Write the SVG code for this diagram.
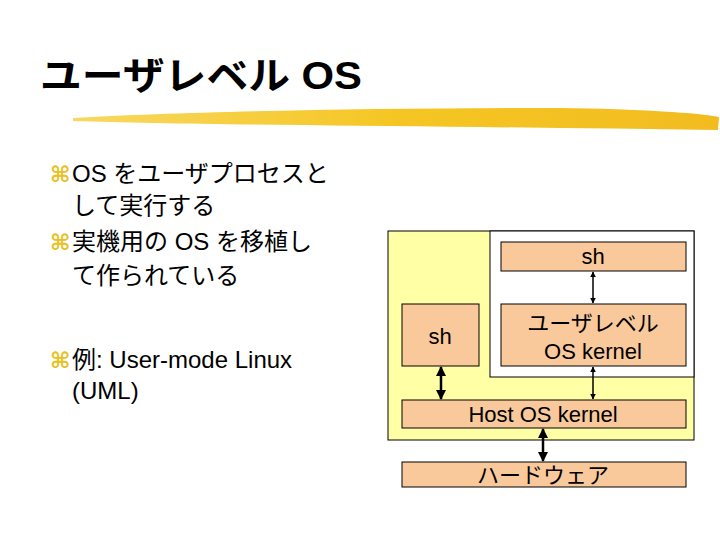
<svg xmlns="http://www.w3.org/2000/svg" width="720" height="540" viewBox="0 0 720 540">
<style>
.jp{font-family:"Liberation Sans","Noto Sans CJK JP",sans-serif;fill:#000}
.title{font-size:38px;font-weight:bold}
.body{font-size:24px}
.lbl{font-size:22px;text-anchor:middle}
.box{fill:#F9C99B;stroke:#000;stroke-width:1}
.con{stroke:#000;stroke-width:1.5;fill:none;marker-start:url(#ah);marker-end:url(#ah)}
.bold{stroke-width:2.5}
.bul{font-family:"DejaVu Sans",sans-serif;font-size:22px;font-weight:bold;fill:#E8C020}
</style>
<defs>
<marker id="ah" viewBox="0 0 10 10" refX="9" refY="5" markerWidth="4" markerHeight="4" orient="auto-start-reverse" markerUnits="strokeWidth">
<path d="M0,0 L10,5 L0,10 Z" fill="#000"/>
</marker>
<linearGradient id="brush" x1="0" x2="1" y1="0" y2="0">
<stop offset="0" stop-color="#F8D860"/>
<stop offset="0.5" stop-color="#F5C623"/>
<stop offset="1" stop-color="#F2BC20"/>
</linearGradient>
</defs>
<rect width="720" height="540" fill="#fff"/>
<g id="title">
<text class="jp title" x="40" y="89" textLength="322" lengthAdjust="spacingAndGlyphs">ユーザレベル OS</text>
<path d="M73,118 C180,112 360,108 560,108 C640,109 700,113 719,117 L718,130 C640,129 560,128 480,127 C300,125 160,124 73,121 Z" fill="url(#brush)"/>
</g>
<g id="bullets">
<text class="bul" x="50" y="182">⌘</text>
<text class="jp body" x="72" y="182">OS をユーザプロセスと</text>
<text class="jp body" x="72" y="214">して実行する</text>
<text class="bul" x="50" y="250">⌘</text>
<text class="jp body" x="72" y="250">実機用の OS を移植し</text>
<text class="jp body" x="72" y="284">て作られている</text>
<text class="bul" x="50" y="368">⌘</text>
<text class="jp body" x="72" y="368">例: User-mode Linux</text>
<text class="jp body" x="72" y="399">(UML)</text>
</g>
<g id="host-area"><rect x="388" y="231" width="306" height="209" fill="#FFFFA6" stroke="#000" stroke-width="1"/></g>
<g id="uml-area"><rect x="490" y="231" width="204" height="146" fill="#fff" stroke="#000" stroke-width="1"/></g>
<g id="sh-top"><rect class="box" x="501" y="242" width="185" height="29"/><text class="jp lbl" x="593" y="264">sh</text></g>
<g id="uml-kernel"><rect class="box" x="501" y="304" width="185" height="62"/><text class="jp lbl" x="593" y="331">ユーザレベル</text><text class="jp lbl" x="593" y="359">OS kernel</text></g>
<g id="sh-left"><rect class="box" x="402" y="304" width="77" height="62"/><text class="jp lbl" x="440" y="344">sh</text></g>
<g id="host-kernel"><rect class="box" x="402" y="400" width="284" height="28"/><text class="jp lbl" x="543" y="422">Host OS kernel</text></g>
<g id="hardware"><rect class="box" x="402" y="462" width="284" height="25"/><text class="jp lbl" x="543" y="483">ハードウェア</text></g>
<g id="connectors">
<line class="con" x1="593" y1="272" x2="593" y2="303"/>
<line class="con" x1="593" y1="367" x2="593" y2="399"/>
<line class="con bold" x1="441" y1="367" x2="441" y2="399"/>
<line class="con bold" x1="543" y1="429" x2="543" y2="461"/>
</g>
</svg>
